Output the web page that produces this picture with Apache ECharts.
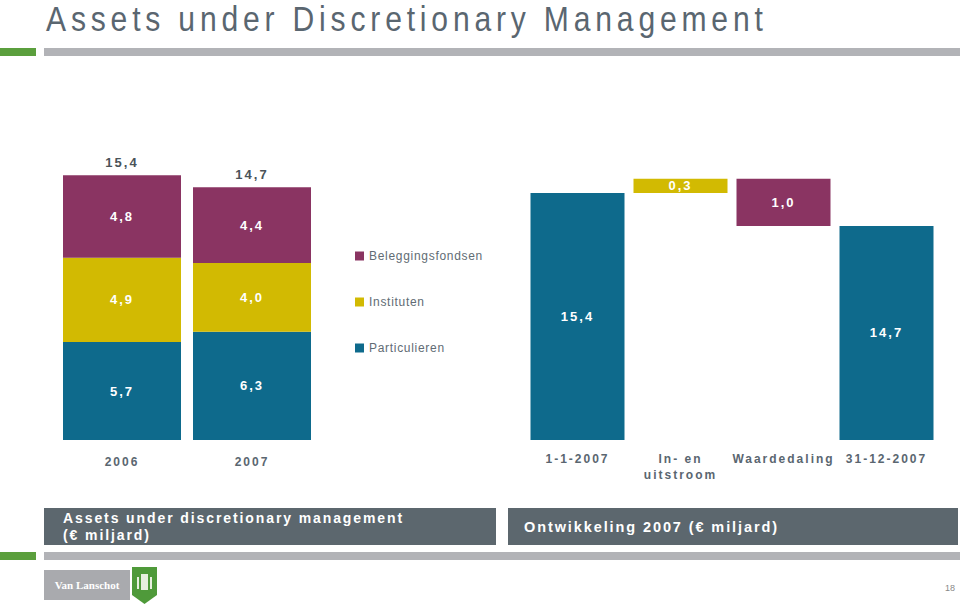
<!DOCTYPE html>
<html><head><meta charset="utf-8">
<script src="https://cdn.jsdelivr.net/npm/echarts@6/dist/echarts.min.js"></script>
<style>
html,body{margin:0;padding:0;background:#fff;}
#c{width:960px;height:608px;}
text[style*="mkLbl"]{letter-spacing:2px;}
text[style*="mkLeg"]{letter-spacing:0.7px;}
text[style*="mkTitle"]{letter-spacing:5.6px;}
text[style*="mkBox"]{letter-spacing:1.9px;}
</style></head><body><div id="c"></div>
<script>
// Left chart: assets under discretionary management (€ miljard)
const years = ['2006', '2007'];
const particulieren = [5.7, 6.3];
const instituten = [4.9, 4.0];
const beleggingsfondsen = [4.8, 4.4];
const totals = [15.4, 14.7];
const legendNames = ['Beleggingsfondsen', 'Instituten', 'Particulieren'];

// Right chart: ontwikkeling 2007 (waterfall)
const wfCategories = ['1-1-2007', 'In- en\nuitstroom', 'Waardedaling', '31-12-2007'];
const wfBase = [0, 15.4, 14.7, 0];
const wfValues = [15.4, 0.3, 1.0, 14.7];

const BLUE = '#0e6a8c', YELLOW = '#d2ba02', PURPLE = '#8a3462';
const GRAY_TXT = '#5a6670';
const LBL_FONT = "mkLbl, 'Liberation Sans', sans-serif";
const LEG_FONT = "mkLeg, 'Liberation Sans', sans-serif";
const TITLE_FONT = "mkTitle, 'Liberation Sans', sans-serif";
const BOX_FONT = "mkBox, 'Liberation Sans', sans-serif";
const fmt = v => Number(v).toFixed(1).replace('.', ',');

const inLabel = {
  show: true, position: 'inside', color: '#fff', fontWeight: 'bold',
  fontSize: 13, fontFamily: LBL_FONT,
  formatter: p => fmt(p.value)
};
const axisLbl = {
  color: GRAY_TXT, fontWeight: 'bold', fontSize: 12, fontFamily: LBL_FONT,
  interval: 0, lineHeight: 16
};

const chart = echarts.init(document.getElementById('c'), null, {renderer: 'svg'});
chart.setOption({
  animation: false,
  backgroundColor: '#fff',
  grid: [
    {left: 57, top: 165, width: 260, height: 275},
    {left: 526, top: 160, width: 412, height: 280}
  ],
  xAxis: [
    {gridIndex: 0, type: 'category', data: years, axisLine: {show: false},
     axisTick: {show: false}, axisLabel: Object.assign({margin: 14}, axisLbl)},
    {gridIndex: 1, type: 'category', data: wfCategories, axisLine: {show: false},
     axisTick: {show: false}, axisLabel: Object.assign({margin: 11}, axisLbl)}
  ],
  yAxis: [
    {gridIndex: 0, type: 'value', min: 0, max: 16, show: false},
    {gridIndex: 1, type: 'value', min: 10.15, max: 16.1, show: false}
  ],
  legend: {
    data: legendNames, orient: 'vertical', left: 350, top: 244,
    itemWidth: 9, itemHeight: 9, itemGap: 32, icon: 'rect',
    textStyle: {color: '#616c74', fontSize: 12, fontFamily: LEG_FONT, lineHeight: 14},
    selectedMode: false
  },
  series: [
    {name: 'Particulieren', type: 'bar', stack: 'a', xAxisIndex: 0, yAxisIndex: 0,
     data: particulieren, barWidth: 118, itemStyle: {color: BLUE}, label: inLabel},
    {name: 'Instituten', type: 'bar', stack: 'a', xAxisIndex: 0, yAxisIndex: 0,
     data: instituten, barWidth: 118, itemStyle: {color: YELLOW}, label: inLabel},
    {name: 'Beleggingsfondsen', type: 'bar', stack: 'a', xAxisIndex: 0, yAxisIndex: 0,
     data: beleggingsfondsen, barWidth: 118, itemStyle: {color: PURPLE}, label: inLabel},
    {name: 'Totaal', type: 'bar', stack: 'a', xAxisIndex: 0, yAxisIndex: 0,
     data: totals.map(() => 0), barWidth: 118, itemStyle: {color: 'transparent'},
     label: {show: true, position: 'top', distance: 6, color: '#4a5359', fontWeight: 'bold',
             fontSize: 13, fontFamily: LBL_FONT, formatter: p => fmt(totals[p.dataIndex])}},
    {name: 'base', type: 'bar', stack: 'w', xAxisIndex: 1, yAxisIndex: 1,
     data: wfBase, barWidth: 94, itemStyle: {color: 'transparent'}, silent: true},
    {name: 'Ontwikkeling', type: 'bar', stack: 'w', xAxisIndex: 1, yAxisIndex: 1,
     barWidth: 94, label: inLabel,
     data: wfValues.map((v, i) => ({value: v, itemStyle: {color: [BLUE, YELLOW, PURPLE, BLUE][i]}}))}
  ],
  graphic: [
    {type: 'text', x: 46, y: 19, scaleX: 0.86, style: {text: 'Assets under Discretionary Management',
      fill: GRAY_TXT, fontSize: 35, fontFamily: TITLE_FONT, verticalAlign: 'middle'}},
    {type: 'rect', shape: {x: 0, y: 48, width: 36, height: 8}, style: {fill: '#5b9f3d'}},
    {type: 'rect', shape: {x: 44, y: 48, width: 916, height: 8}, style: {fill: '#b2b3b7'}},
    {type: 'rect', shape: {x: 44, y: 508, width: 452, height: 37}, style: {fill: '#5c676e'}},
    {type: 'rect', shape: {x: 508, y: 508, width: 450, height: 37}, style: {fill: '#5c676e'}},
    {type: 'text', x: 63, y: 518, style: {text: 'Assets under discretionary management',
      fill: '#fff', fontSize: 14, fontWeight: 'bold', fontFamily: BOX_FONT, verticalAlign: 'middle'}},
    {type: 'text', x: 63, y: 535, style: {text: '(€ miljard)',
      fill: '#fff', fontSize: 14, fontWeight: 'bold', fontFamily: BOX_FONT, verticalAlign: 'middle'}},
    {type: 'text', x: 524, y: 527, style: {text: 'Ontwikkeling 2007 (€ miljard)',
      fill: '#fff', fontSize: 14.5, fontWeight: 'bold', fontFamily: BOX_FONT, verticalAlign: 'middle'}},
    {type: 'rect', shape: {x: 0, y: 552, width: 36, height: 8}, style: {fill: '#5b9f3d'}},
    {type: 'rect', shape: {x: 44, y: 552, width: 916, height: 8}, style: {fill: '#b2b3b7'}},
    {type: 'rect', shape: {x: 44, y: 570, width: 86, height: 30}, style: {fill: '#a9aaae'}},
    {type: 'text', x: 87, y: 585, style: {text: 'Van Lanschot', fill: '#fff', fontSize: 11,
      fontWeight: 'bold', fontFamily: "'Liberation Serif', 'DejaVu Serif', serif",
      align: 'center', verticalAlign: 'middle'}},
    {type: 'polygon', shape: {points: [[132, 567], [157, 567], [157, 595], [144.5, 604], [132, 595]]},
     style: {fill: '#4f9a3a'}},
    {type: 'rect', shape: {x: 141, y: 574, width: 7, height: 16}, style: {fill: '#e8f0e0'}},
    {type: 'rect', shape: {x: 137, y: 577, width: 2, height: 12}, style: {fill: '#e8f0e0'}},
    {type: 'rect', shape: {x: 150, y: 577, width: 2, height: 12}, style: {fill: '#e8f0e0'}},
    {type: 'text', x: 950, y: 588, style: {text: '18', fill: '#888', fontSize: 9,
      fontFamily: "'Liberation Sans', sans-serif", align: 'center', verticalAlign: 'middle'}}
  ]
});
</script></body></html>
